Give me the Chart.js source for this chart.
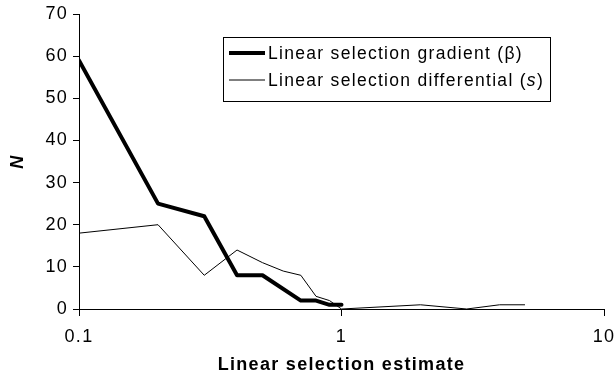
<!DOCTYPE html>
<html>
<head>
<meta charset="utf-8">
<script src="https://cdn.jsdelivr.net/npm/chart.js@4/dist/chart.umd.min.js"></script>
<style>
  html, body { margin: 0; padding: 0; background: #fff; }
  #wrap { width: 616px; height: 378px; }
</style>
</head>
<body>
<div id="wrap"><canvas id="chart"></canvas></div>
<script>
// selection estimates (log x) and counts N
const gradientX = [0.1, 0.2, 0.3, 0.4, 0.5, 0.7, 0.8, 0.9, 1];
const gradientN = [59, 25, 22, 8, 8, 2, 2, 1, 1];
const differentialX = [0.1, 0.2, 0.3, 0.4, 0.5, 0.6, 0.7, 0.8, 0.9, 1, 2, 3, 4, 5];
const differentialN = [18, 20, 8, 14, 11, 9, 8, 3, 2, 0, 1, 0, 1, 1];
const xTicks = [0.1, 1, 10];
const yTicks = [0, 10, 20, 30, 40, 50, 60, 70];

const FONT = "'Liberation Sans', Arial, sans-serif";
const SPACING = "1.3px";

const pts = (xs, ys) => xs.map((x, i) => ({ x: x, y: ys[i] }));

// slightly wider text everywhere
const spacedText = {
  id: "spacedText",
  beforeDraw(chart) { chart.ctx.letterSpacing = SPACING; }
};

// boxed legend with the italic symbol in the second entry
const boxLegend = {
  id: "boxLegend",
  afterDraw(chart) {
    const ctx = chart.ctx;
    const left = 223, top = 37, w = 327, h = 64;
    ctx.save();
    ctx.letterSpacing = SPACING;
    ctx.fillStyle = "#fff";
    ctx.fillRect(left, top, w, h);
    ctx.strokeStyle = "#000";
    ctx.lineWidth = 1;
    ctx.strokeRect(left + 0.5, top + 0.5, w, h);

    const rows = [
      { width: 4, parts: [["Linear selection gradient (β)", ""]] },
      { width: 1, parts: [["Linear selection differential (", ""], ["s", "italic "], [")", ""]] }
    ];
    ctx.textBaseline = "middle";
    ctx.fillStyle = "#000";
    rows.forEach((r, i) => {
      const y = top + 16 + i * 27;
      ctx.beginPath();
      ctx.lineWidth = r.width;
      ctx.moveTo(left + 6, y);
      ctx.lineTo(left + 42, y);
      ctx.stroke();
      let x = left + 45;
      r.parts.forEach(([txt, style]) => {
        ctx.font = style + "17.5px " + FONT;
        ctx.fillText(txt, x, y + 1);
        x += ctx.measureText(txt).width;
      });
    });
    ctx.restore();
  }
};

new Chart(document.getElementById("chart"), {
  type: "line",
  data: {
    datasets: [
      {
        label: "Linear selection gradient (β)",
        data: pts(gradientX, gradientN),
        borderColor: "#000",
        borderWidth: 4,
        pointRadius: 0,
        tension: 0,
        borderJoinStyle: "round",
        borderCapStyle: "round"
      },
      {
        label: "Linear selection differential (s)",
        data: pts(differentialX, differentialN),
        borderColor: "#000",
        borderWidth: 1,
        pointRadius: 0,
        tension: 0
      }
    ]
  },
  options: {
    responsive: true,
    maintainAspectRatio: false,
    animation: false,
    layout: { padding: { top: 14, right: 12, left: 0, bottom: 0 } },
    plugins: {
      legend: { display: false },
      tooltip: { enabled: false }
    },
    scales: {
      x: {
        type: "logarithmic",
        min: 0.1,
        max: 10,
        afterBuildTicks: (axis) => { axis.ticks = xTicks.map(v => ({ value: v })); },
        afterFit: (axis) => {
          axis.height = 69;
          axis.paddingLeft = 0;
          axis.paddingRight = 0;
        },
        border: { color: "#000", width: 1 },
        grid: { display: true, drawOnChartArea: false, drawTicks: true, tickLength: 7, tickColor: "#000" },
        ticks: {
          color: "#000",
          font: { family: FONT, size: 18 },
          padding: 10,
          autoSkip: false,
          maxRotation: 0,
          callback: (v) => String(v)
        },
        title: {
          display: true,
          text: "Linear selection estimate",
          color: "#000",
          font: { family: FONT, size: 18, weight: "bold" },
          padding: { top: 2, bottom: 2 }
        }
      },
      y: {
        min: 0,
        max: 70,
        afterBuildTicks: (axis) => { axis.ticks = yTicks.map(v => ({ value: v })); },
        afterFit: (axis) => {
          axis.width = 79;
          axis.paddingTop = 0;
          axis.paddingBottom = 0;
        },
        border: { color: "#000", width: 1 },
        grid: { display: true, drawOnChartArea: false, drawTicks: true, tickLength: 6, tickColor: "#000" },
        ticks: {
          color: "#000",
          font: { family: FONT, size: 18 },
          padding: 5
        },
        title: {
          display: true,
          text: "N",
          color: "#000",
          font: { family: FONT, size: 18, weight: "bold", style: "italic" },
          padding: { top: 7, bottom: 0 }
        }
      }
    }
  },
  plugins: [spacedText, boxLegend]
});
</script>
</body>
</html>
